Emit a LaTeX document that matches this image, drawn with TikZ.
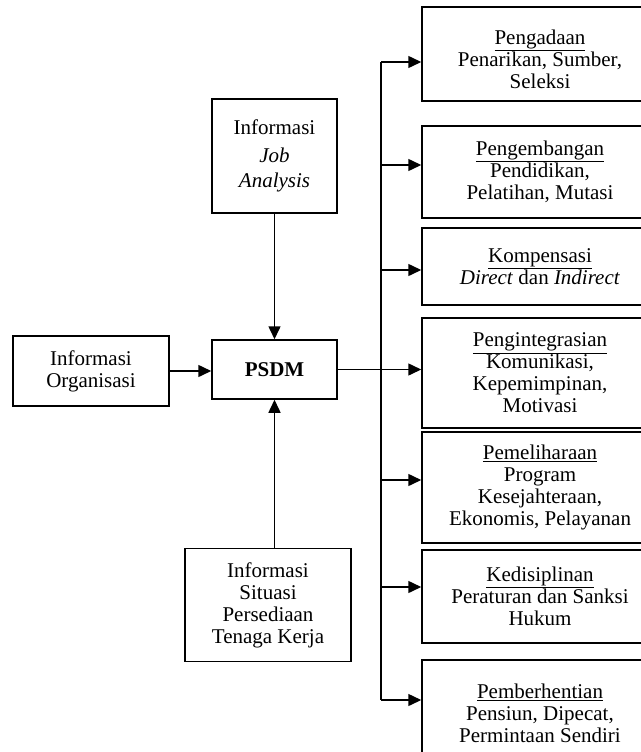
\documentclass[tikz,border=0pt]{standalone}
\usepackage{fontspec}
\setmainfont{Liberation Serif}
\usetikzlibrary{arrows.meta}
\begin{document}
\begin{tikzpicture}[x=1pt,y=-1pt,
  box/.style={draw, line width=1.5pt, inner sep=0pt, align=center, font=\fontsize{21}{22}\selectfont},
  rbox/.style={box, minimum width=236pt},
  txt/.style={inner sep=0pt, align=center, font=\fontsize{21}{22}\selectfont},
  arr/.style={line width=1.5pt, -{Triangle[length=13pt,width=12pt]}},
  ln/.style={line width=1.5pt}]
\useasboundingbox (0,0) rectangle (640,752);
% left / centre boxes
\node[box, minimum width=125pt, minimum height=114pt] (job) at (274.5,156) {Informasi\\[6pt]\textit{Job}\\[3pt]\textit{Analysis}};
\node[box, minimum width=125pt, minimum height=59pt, font=\fontsize{21}{22}\selectfont\bfseries] (psdm) at (274.5,369.5) {PSDM};
\node[box, minimum width=156pt, minimum height=70pt] (org) at (91,371) {Informasi\\Organisasi};
\node[box, minimum width=166pt, minimum height=113pt] (sit) at (268,605) {Informasi\\Situasi\\Persediaan\\Tenaga Kerja};
% right boxes
\node[rbox, minimum height=94pt] (p1) at (540,54) {};
\node[txt] (p1t) at (540,59) {\underline{Pengadaan}\\Penarikan, Sumber,\\Seleksi};
\node[rbox, minimum height=92pt] (p2) at (540,172) {\underline{Pengembangan}\\Pendidikan,\\Pelatihan, Mutasi};
\node[rbox, minimum height=77pt] (p3) at (540,266.5) {\underline{Kompensasi}\\\textit{Direct} dan \textit{Indirect}};
\node[rbox, minimum height=110pt] (p4) at (540,373) {\underline{Pengintegrasian}\\Komunikasi,\\Kepemimpinan,\\Motivasi};
\node[rbox, minimum height=111pt] (p5) at (540,487.5) {\underline{Pemeliharaan}\\Program\\Kesejahteraan,\\Ekonomis, Pelayanan};
\node[rbox, minimum height=93pt] (p6) at (540,596.5) {\underline{Kedisiplinan}\\Peraturan dan Sanksi\\Hukum};
\node[rbox, minimum height=106pt] (p7) at (540,713) {\underline{Pemberhentian}\\Pensiun, Dipecat,\\Permintaan Sendiri};
% inputs to PSDM
\draw[arr] (job.south) -- (psdm.north);
\draw[arr] (org.east) -- (org.east -| psdm.west);
\draw[arr] (sit.north -| psdm.south) -- (psdm.south);
% bus
\coordinate (c1) at (381,62);
\coordinate (c2) at (381,165);
\coordinate (c3) at (381,270);
\coordinate (c5) at (381,480);
\coordinate (c6) at (381,587);
\coordinate (c7) at (381,700);
\draw[ln] (c1) -- (c7);
\draw[arr] (c1) -- (c1 -| p1.west);
\draw[arr] (c2) -- (c2 -| p2.west);
\draw[arr] (c3) -- (c3 -| p3.west);
\draw[arr] (psdm.east) -- (psdm.east -| p4.west);
\draw[arr] (c5) -- (c5 -| p5.west);
\draw[arr] (c6) -- (c6 -| p6.west);
\draw[arr] (c7) -- (c7 -| p7.west);
\end{tikzpicture}
\end{document}
